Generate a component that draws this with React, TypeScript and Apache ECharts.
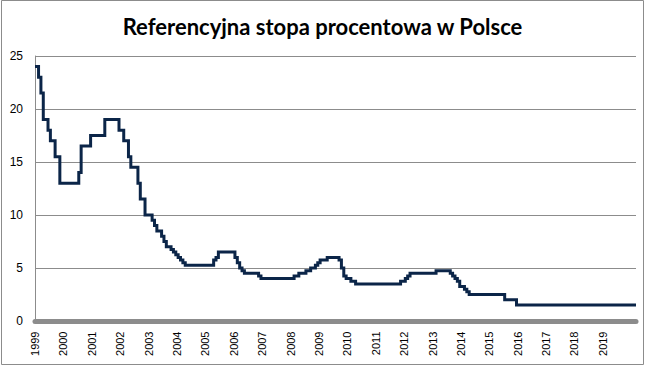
import React, { useEffect, useRef } from "react";
import * as echarts from "echarts";

const title = "Referencyjna stopa procentowa w Polsce";
const startYear = 1999;
const yTicks = { min: 0, max: 25, interval: 5 };

// Monthly values, one row per year (as labelled on the chart)
const r1999 = [24, 24, 23, 21.5, 19, 19, 18, 17, 17, 15.5, 15.5, 13];
const r2000 = [13, 13, 13, 13, 13, 13, 13, 14, 16.5, 16.5, 16.5, 16.5];
const r2001 = [17.5, 17.5, 17.5, 17.5, 17.5, 17.5, 19, 19, 19, 19, 19, 19];
const r2002 = [18, 18, 17, 17, 15.5, 14.5, 14.5, 14.5, 13, 11.5, 11.5, 10];
const r2003 = [10, 10, 9.5, 9, 8.5, 8.5, 8, 7.5, 7, 7, 6.75, 6.5];
const r2004 = [6.25, 6, 5.75, 5.5, 5.25, 5.25, 5.25, 5.25, 5.25, 5.25, 5.25, 5.25];
const r2005 = [5.25, 5.25, 5.25, 5.25, 5.75, 6, 6.5, 6.5, 6.5, 6.5, 6.5, 6.5];
const r2006 = [6.5, 6, 5.5, 5, 4.75, 4.5, 4.5, 4.5, 4.5, 4.5, 4.5, 4.25];
const r2007 = [4, 4, 4, 4, 4, 4, 4, 4, 4, 4, 4, 4];
const r2008 = [4, 4, 4.25, 4.25, 4.5, 4.5, 4.5, 4.75, 4.75, 5, 5, 5.25];
const r2009 = [5.5, 5.75, 5.75, 5.75, 6, 6, 6, 6, 6, 5.75, 5, 4.25];
const r2010 = [4, 4, 3.75, 3.75, 3.5, 3.5, 3.5, 3.5, 3.5, 3.5, 3.5, 3.5];
const r2011 = [3.5, 3.5, 3.5, 3.5, 3.5, 3.5, 3.5, 3.5, 3.5, 3.5, 3.5, 3.75];
const r2012 = [3.75, 4, 4.25, 4.5, 4.5, 4.5, 4.5, 4.5, 4.5, 4.5, 4.5, 4.5];
const r2013 = [4.5, 4.5, 4.75, 4.75, 4.75, 4.75, 4.75, 4.75, 4.5, 4.25, 4, 3.75];
const r2014 = [3.25, 3.25, 3, 2.75, 2.5, 2.5, 2.5, 2.5, 2.5, 2.5, 2.5, 2.5];
const r2015 = [2.5, 2.5, 2.5, 2.5, 2.5, 2.5, 2.5, 2, 2, 2, 2, 2];
const r2016 = [1.5, 1.5, 1.5, 1.5, 1.5, 1.5, 1.5, 1.5, 1.5, 1.5, 1.5, 1.5];
const r2017 = [1.5, 1.5, 1.5, 1.5, 1.5, 1.5, 1.5, 1.5, 1.5, 1.5, 1.5, 1.5];
const r2018 = [1.5, 1.5, 1.5, 1.5, 1.5, 1.5, 1.5, 1.5, 1.5, 1.5, 1.5, 1.5];
const r2019 = [1.5, 1.5, 1.5, 1.5, 1.5, 1.5, 1.5, 1.5, 1.5, 1.5, 1.5, 1.5];
const r2020 = [1.5, 1.5, 1.5];

const rows = [
  r1999, r2000, r2001, r2002, r2003, r2004, r2005, r2006, r2007, r2008, r2009,
  r2010, r2011, r2012, r2013, r2014, r2015, r2016, r2017, r2018, r2019, r2020,
];
const lastLabelledYear = 2019;

export default function App() {
  const ref = useRef<HTMLDivElement>(null);
  useEffect(() => {
    if (!ref.current) return;
    const chart = echarts.init(ref.current, undefined, { renderer: "svg" });
    const categories: string[] = [];
    const values: number[] = [];
    rows.forEach((row, yi) => {
      row.forEach((v, mi) => {
        categories.push(`${startYear + yi}-${String(mi + 1).padStart(2, "0")}`);
        values.push(v);
      });
    });
    const lastLabelIdx = (lastLabelledYear - startYear) * 12;
    chart.setOption({
      animation: false,
      backgroundColor: "#ffffff",
      title: {
        text: title,
        left: "center",
        top: 10,
        textStyle: {
          fontFamily: "Lato",
          fontWeight: "bold",
          fontSize: 22,
          color: "#000000",
        },
      },
      graphic: [
        {
          type: "rect",
          shape: { x: 1.5, y: 0.5, width: 642, height: 364 },
          style: { fill: "none", stroke: "#8c8c8c", lineWidth: 1 },
          silent: true,
        },
      ],
      grid: { left: 35, right: 9, top: 56, bottom: 50, containLabel: false },
      xAxis: {
        type: "category",
        data: categories,
        boundaryGap: false,
        offset: 2.5,
        axisLine: { show: true, lineStyle: { color: "#8c8c8c", width: 5 } },
        axisTick: { show: false },
        axisLabel: {
          rotate: 90,
          margin: 8,
          fontFamily: "Liberation Sans",
          fontSize: 11,
          color: "#000000",
          interval: (idx: number) => idx % 12 === 0 && idx <= lastLabelIdx,
          formatter: (v: string) => v.slice(0, 4),
        },
        splitLine: { show: false },
      },
      yAxis: {
        type: "value",
        min: yTicks.min,
        max: yTicks.max,
        interval: yTicks.interval,
        axisLine: { show: true, lineStyle: { color: "#8c8c8c", width: 1 } },
        axisTick: { show: false },
        axisLabel: {
          margin: 12,
          fontFamily: "Liberation Sans",
          fontSize: 12,
          color: "#000000",
        },
        splitLine: { show: true, lineStyle: { color: "#8c8c8c", width: 1 } },
      },
      series: [
        {
          type: "line",
          data: values,
          step: "middle",
          showSymbol: false,
          symbol: "none",
          lineStyle: { color: "#0b2548", width: 3, join: "miter" },
        },
      ],
    });
    return () => chart.dispose();
  }, []);
  return (
    <div
      ref={ref}
      style={{ position: "fixed", left: 0, top: 0, width: 645, height: 371 }}
    />
  );
}
